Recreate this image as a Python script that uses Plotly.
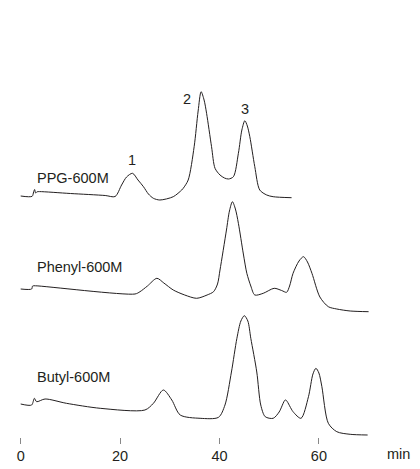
import plotly.graph_objects as go

# Retention time (min) and detector signal (arbitrary units) for each column
ppg_t = [0.0, 2.3, 2.6, 2.8, 3.0, 3.3, 3.8, 10.0, 17.0, 19.0, 20.3, 21.3, 22.5, 23.6, 24.7, 25.7,
         26.7, 28.0, 30.7, 32.4, 32.7, 33.7, 34.9, 35.7, 36.3, 36.9, 37.4, 38.4, 39.1, 40.1, 41.0,
         41.8, 42.8, 43.8, 44.5, 45.1, 45.6, 46.1, 47.1, 48.1, 49.5, 50.8, 54.5]
ppg_s = [0.0, -0.3, 4.0, 6.5, 3.0, 4.2, 4.4, 2.5, 0.5, -0.5, 11.0, 19.0, 22.7, 16.0, 9.3, 2.0,
         -2.3, -4.0, -0.7, 6.0, 7.7, 16.0, 49.3, 85.0, 104.3, 96.0, 82.7, 49.3, 27.7, 21.0, 18.0,
         17.0, 19.3, 42.7, 66.0, 75.3, 70.0, 59.3, 29.3, 6.0, 1.0, -0.7, -1.7]

phenyl_t = [0.0, 2.2, 2.4, 3.0, 23.0, 24.0, 25.5, 27.4, 28.8, 30.7, 33.0, 35.4, 37.5, 38.8, 39.6,
            40.1, 41.4, 42.0, 42.6, 43.2, 43.8, 44.8, 45.5, 46.3, 47.1, 48.8, 51.0, 52.5, 53.5,
            54.1, 54.8, 56.0, 56.9, 57.7, 58.6, 60.2, 61.9, 63.6, 66.3, 70.0]
phenyl_s = [0.0, 0.0, 3.0, 3.2, -5.0, -2.7, 3.0, 10.7, 6.0, -1.0, -6.0, -9.3, -6.0, -2.7, 5.0,
            19.0, 59.0, 78.0, 87.3, 80.0, 65.7, 35.0, 15.7, 3.0, -6.0, -4.3, 0.7, -1.5, -3.3,
            3.0, 15.7, 28.0, 32.3, 27.0, 15.7, -8.0, -17.7, -20.0, -22.0, -22.7]

butyl_t = [0.0, 2.2, 2.75, 3.2, 4.9, 9.2, 16.0, 25.0, 26.7, 28.7, 30.4, 32.1, 36.1, 39.8, 41.1,
           42.4, 43.5, 44.3, 45.0, 45.7, 46.3, 47.5, 48.3, 49.2, 50.8, 52.0, 53.2, 53.5, 54.8,
           56.4, 57.9, 58.8, 59.4, 60.0, 60.6, 61.9, 63.6, 66.3, 69.8]
butyl_s = [0.0, -1.0, 5.7, 2.3, 5.0, 0.7, -4.3, -6.0, 0.7, 14.0, 4.0, -11.0, -14.3, -13.3, -1.0,
           32.0, 65.7, 83.0, 88.3, 83.0, 65.7, 32.0, -1.0, -12.7, -14.3, -8.0, 4.0, 3.3, -7.7,
           -14.3, 7.3, 30.0, 35.7, 31.0, 17.3, -19.3, -27.7, -30.3, -31.0]

names = ["PPG-600M", "Phenyl-600M", "Butyl-600M"]
offsets = [241, 148, 33]          # vertical stacking of the chromatograms
x_ticks = [0, 20, 40, 60]

INK = "#231f20"
FONT = "Liberation Sans, Arial, Helvetica, sans-serif"

# page body has an 8px margin, so the figure is 8px smaller than the window
W, H = 412, 461
PX_PER_MIN = 4.97
X0 = 12.7          # pixel position of t = 0 inside the figure
PLOT_H = 429

fig = go.Figure()
for t, s, off in zip([ppg_t, phenyl_t, butyl_t], [ppg_s, phenyl_s, butyl_s], offsets):
    fig.add_trace(go.Scatter(
        x=t, y=[v + off for v in s], mode="lines",
        line=dict(color=INK, width=1, shape="spline", smoothing=0.8),
        showlegend=False, hoverinfo="skip", cliponaxis=False))

# trace labels
label_y = [259.5, 170.5, 60.5]
for name, ly in zip(names, label_y):
    fig.add_annotation(x=2.88, y=ly, text=name, showarrow=False, xanchor="left",
                       yanchor="middle", font=dict(family=FONT, size=14.5, color=INK))

# peak numbers on PPG trace
for txt, px, py in [("1", 22.4, 277.5), ("2", 33.4, 338), ("3", 45.1, 328)]:
    fig.add_annotation(x=px, y=py, text=txt, showarrow=False, xanchor="center",
                       yanchor="middle", font=dict(family=FONT, size=14.5, color=INK))

fig.add_annotation(x=(398 - 8) / W, y=-(454 - 437) / PLOT_H, xref="paper", yref="paper",
                   text="min", showarrow=False, xanchor="center", yanchor="middle",
                   font=dict(family=FONT, size=14.5, color=INK))

fig.update_layout(
    width=W, height=H,
    margin=dict(l=0, r=0, t=0, b=H - PLOT_H, pad=0, autoexpand=False),
    paper_bgcolor="white", plot_bgcolor="white",
    xaxis=dict(range=[-X0 / PX_PER_MIN, (W - X0) / PX_PER_MIN], tickvals=x_ticks,
               ticktext=[str(v) for v in x_ticks], ticks="outside", ticklen=6,
               tickwidth=1, tickcolor="#888888", showline=False, showgrid=False,
               zeroline=False, automargin=False,
               tickfont=dict(family=FONT, size=14.5, color=INK)),
    yaxis=dict(range=[0, PLOT_H], visible=False, showgrid=False, zeroline=False),
)

fig.write_html("out.html")
